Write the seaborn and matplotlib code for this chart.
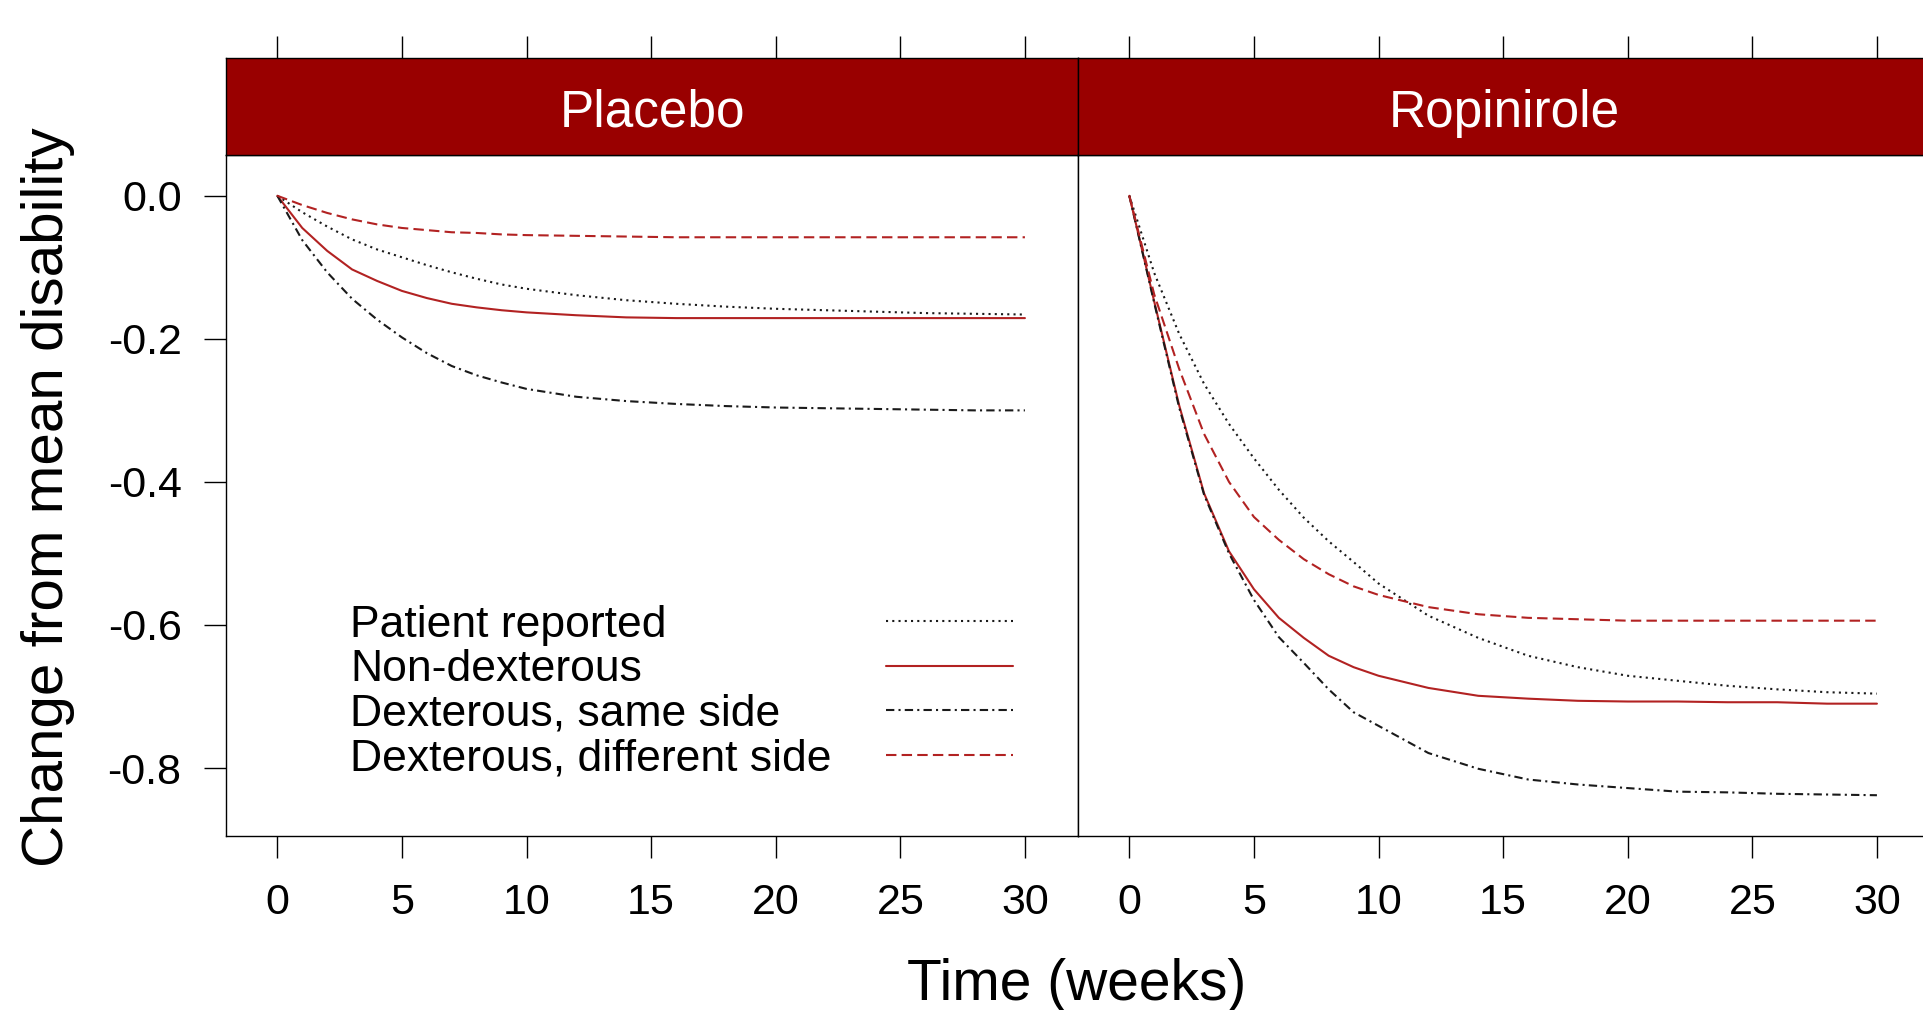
"""
Change from mean disability over time, Placebo vs Ropinirole
Two lattice-style panels with dark red strips on top.
"""

import pandas as pd
import numpy as np
import matplotlib
matplotlib.use("Agg")
import matplotlib.pyplot as plt
from matplotlib.lines import Line2D
import seaborn as sns

weeks = [0, 1, 2, 3, 4, 5, 6, 7, 8, 9, 10, 12, 14, 16, 18, 20, 22, 24, 26, 28, 30]

measures = ["Patient reported", "Non-dexterous",
            "Dexterous, same side", "Dexterous, different side"]
treatments = ["Placebo", "Ropinirole"]

# Placebo curves
placebo_patient = [0, -0.023, -0.043, -0.061, -0.075, -0.086, -0.097, -0.107, -0.116, -0.124,
                   -0.130, -0.139, -0.146, -0.151, -0.155, -0.158, -0.160, -0.162, -0.164, -0.165, -0.166]
placebo_nondex = [0, -0.045, -0.077, -0.103, -0.119, -0.133, -0.143, -0.151, -0.156, -0.160,
                  -0.163, -0.167, -0.170, -0.171, -0.171, -0.171, -0.171, -0.171, -0.171, -0.171, -0.171]
placebo_same = [0, -0.062, -0.107, -0.144, -0.173, -0.198, -0.220, -0.238, -0.251, -0.261,
                -0.270, -0.281, -0.287, -0.291, -0.294, -0.296, -0.297, -0.298, -0.299, -0.300, -0.300]
placebo_diff = [0, -0.013, -0.024, -0.033, -0.040, -0.045, -0.048, -0.051, -0.052, -0.054,
                -0.055, -0.056, -0.057, -0.058, -0.058, -0.058, -0.058, -0.058, -0.058, -0.058, -0.058]

# Ropinirole curves
ropin_patient = [0, -0.108, -0.193, -0.263, -0.319, -0.367, -0.411, -0.450, -0.483, -0.512,
                 -0.542, -0.587, -0.618, -0.643, -0.659, -0.671, -0.678, -0.685, -0.690, -0.694, -0.696]
ropin_nondex = [0, -0.148, -0.293, -0.416, -0.497, -0.550, -0.590, -0.618, -0.643, -0.659,
                -0.671, -0.688, -0.699, -0.703, -0.706, -0.707, -0.707, -0.708, -0.708, -0.710, -0.710]
ropin_same = [0, -0.150, -0.296, -0.418, -0.500, -0.565, -0.617, -0.653, -0.690, -0.722,
              -0.741, -0.779, -0.801, -0.816, -0.823, -0.828, -0.833, -0.834, -0.836, -0.837, -0.838]
ropin_diff = [0, -0.138, -0.242, -0.333, -0.400, -0.449, -0.481, -0.508, -0.529, -0.546,
              -0.558, -0.575, -0.585, -0.590, -0.592, -0.594, -0.594, -0.594, -0.594, -0.594, -0.594]

x_ticks = [0, 5, 10, 15, 20, 25, 30]
y_ticks = [0.0, -0.2, -0.4, -0.6, -0.8]
y_tick_labels = ["0.0", "-0.2", "-0.4", "-0.6", "-0.8"]

RED = "#B22222"
STRIP = "#990000"
INK = "#1a1a1a"

palette = {measures[0]: INK, measures[1]: RED, measures[2]: INK, measures[3]: RED}
dashes = {measures[0]: (1, 2), measures[1]: "",
          measures[2]: (4, 2, 1, 2), measures[3]: (5, 2.5)}


def build_frame():
    """Long-form table of all curves"""
    series = {
        "Placebo": [placebo_patient, placebo_nondex, placebo_same, placebo_diff],
        "Ropinirole": [ropin_patient, ropin_nondex, ropin_same, ropin_diff],
    }
    rows = []
    for trt, curves in series.items():
        for name, vals in zip(measures, curves):
            for w, v in zip(weeks, vals):
                rows.append({"treatment": trt, "measure": name, "week": w, "change": v})
    return pd.DataFrame(rows)


def place_key(ax):
    """Lattice-style key: labels left-aligned, line samples in a column to the right"""
    leg = ax.get_legend()
    handles = leg.legend_handles
    labels = [t.get_text() for t in leg.get_texts()]
    leg.remove()
    common = dict(loc="center left", frameon=False, fontsize=32, labelspacing=0.08,
                  borderpad=0, borderaxespad=0)
    blank = [Line2D([], [], linestyle="none") for _ in labels]
    text_key = ax.legend(blank, labels, bbox_to_anchor=(0.1455, 0.2115),
                         handlelength=0, handletextpad=0, **common)
    ax.add_artist(text_key)
    ax.legend(handles, [""] * len(handles), bbox_to_anchor=(0.7746, 0.2115),
              handlelength=2.85, handletextpad=0, **common)


df = build_frame()

sns.set_style("white")
plt.rcParams["font.family"] = ["Liberation Sans", "DejaVu Sans"]
plt.rcParams["axes.unicode_minus"] = False
for key in ["text.color", "axes.labelcolor", "xtick.color", "ytick.color"]:
    plt.rcParams[key] = "black"

fig = plt.figure(figsize=(19.24, 10.1), dpi=100)

W, H = 1924, 1010
panel_left = [226, 1078]
panel_w = 852
panel_top, panel_bot = 155, 836
strip_top = 58

xlim = (-2.06, 32.13)
ylim = (-0.895, 0.057)

for i, trt in enumerate(treatments):
    x0 = panel_left[i] / W
    ax = fig.add_axes([x0, (H - panel_bot) / H, panel_w / W, (panel_bot - panel_top) / H])
    sub = df[df["treatment"] == trt]
    sns.lineplot(data=sub, x="week", y="change", hue="measure", style="measure",
                 hue_order=measures, style_order=measures, palette=palette,
                 dashes=dashes, linewidth=1.5, errorbar=None, ax=ax,
                 legend=(i == 0))
    ax.set_xlim(*xlim)
    ax.set_ylim(*ylim)
    ax.set_xticks(x_ticks)
    ax.set_xticklabels([str(t) for t in x_ticks])
    ax.set_xlabel("")
    ax.set_ylabel("")
    ax.tick_params(axis="x", direction="out", length=16, width=1, pad=18,
                   labelsize=31, bottom=True)
    if i == 0:
        ax.set_yticks(y_ticks)
        ax.set_yticklabels(y_tick_labels)
        ax.tick_params(axis="y", direction="out", length=16, width=1, pad=16,
                       labelsize=31, left=True)
        place_key(ax)
    else:
        ax.set_yticks([])
    for sp in ax.spines.values():
        sp.set_color("black")
        sp.set_linewidth(1.0)

    # strip on top of each panel
    sx = fig.add_axes([x0, (H - panel_top) / H, panel_w / W, (panel_top - strip_top) / H])
    sx.set_facecolor(STRIP)
    sx.set_xlim(*xlim)
    sx.set_xticks(x_ticks)
    sx.set_yticks([])
    sx.tick_params(axis="x", top=True, bottom=False, labeltop=False, labelbottom=False,
                   direction="out", length=16, width=1)
    for sp in sx.spines.values():
        sp.set_color("black")
        sp.set_linewidth(1.0)
    sx.text(0.5, 0.289, trt, transform=sx.transAxes, ha="center", va="baseline",
            color="white", fontsize=37)

fig.text(1077 / W, (H - 985) / H, "Time (weeks)", ha="center", va="center", fontsize=41)
fig.text(48 / W, (H - 497) / H, "Change from mean disability", ha="center", va="center",
         rotation=90, fontsize=42)

fig.savefig("out.png", dpi=100)
